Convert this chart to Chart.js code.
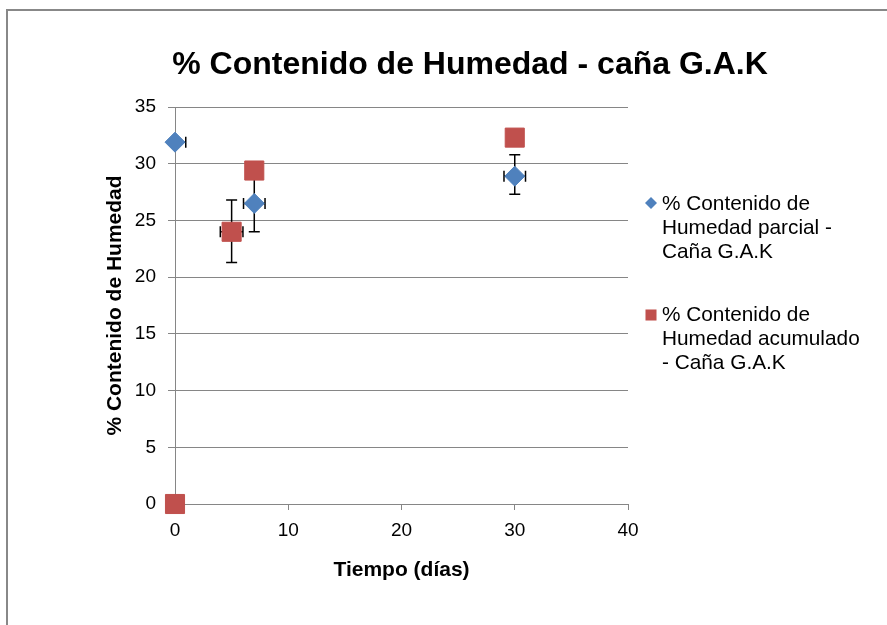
<!DOCTYPE html>
<html><head><meta charset="utf-8">
<script src="https://cdn.jsdelivr.net/npm/chart.js@4.4.1/dist/chart.umd.min.js"></script>
<style>
html,body{margin:0;padding:0;background:#fff;}
#wrap{position:relative;width:887px;height:625px;overflow:hidden;background:#fff;}
#frame{position:absolute;left:6px;top:9px;width:1000px;height:1000px;border:2px solid #888;box-sizing:border-box;pointer-events:none;}
canvas{position:absolute;left:0;top:0;}
</style></head><body>
<div id="wrap"><canvas id="c" width="887" height="625"></canvas><div id="frame"></div></div>
<script>
// ---- data ----
const chartTitle = '% Contenido de Humedad - caña G.A.K';
const xAxisTitle = 'Tiempo (días)';
const yAxisTitle = '% Contenido de Humedad';
const xTicks = [0, 10, 20, 30, 40];
const yTicks = [0, 5, 10, 15, 20, 25, 30, 35];
const parcialLabel = ['% Contenido de', 'Humedad parcial -', 'Caña G.A.K'];
const acumLabel = ['% Contenido de', 'Humedad acumulado', '- Caña G.A.K'];
const parcialX = [0, 7, 30];
const parcialY = [31.9, 26.5, 28.9];
const parcialXErr = [0.95, 0.95, 0.95];
const parcialYErrPlus = [0, 2.5, 1.9];
const parcialYErrMinus = [0, 2.5, 1.6];
const acumX = [0, 5, 7, 30];
const acumY = [0, 24.0, 29.4, 32.3];
const acumXErr = [0, 1.0, 0, 0];
const acumYErrPlus = [0, 2.8, 0, 0];
const acumYErrMinus = [0, 2.7, 0, 0];

// ---- styles ----
const FONT = '"Liberation Sans", Arial, sans-serif';
const BLUE = '#4F81BD';
const RED = '#C0504D';
const GRID = '#868686';

const errorBars = {
  id: 'errorBars',
  beforeDatasetsDraw(chart) {
    const {ctx, chartArea: a, scales: {x, y}} = chart;
    const sets = [
      [parcialX, parcialY, parcialXErr, parcialYErrPlus, parcialYErrMinus],
      [acumX, acumY, acumXErr, acumYErrPlus, acumYErrMinus]
    ];
    const cap = 5.5;
    ctx.save();
    ctx.beginPath();
    ctx.rect(a.left, a.top - 2, a.right - a.left + 2, a.bottom - a.top + 4);
    ctx.clip();
    ctx.strokeStyle = '#000';
    ctx.lineWidth = 1.5;
    sets.forEach(([xs, ys, xe, yp, ym]) => {
      xs.forEach((xv, i) => {
        const px = x.getPixelForValue(xv), py = y.getPixelForValue(ys[i]);
        ctx.beginPath();
        if (xe[i] > 0) {
          const x1 = x.getPixelForValue(xv - xe[i]), x2 = x.getPixelForValue(xv + xe[i]);
          ctx.moveTo(x1, py); ctx.lineTo(x2, py);
          ctx.moveTo(x1, py - cap); ctx.lineTo(x1, py + cap);
          ctx.moveTo(x2, py - cap); ctx.lineTo(x2, py + cap);
        }
        if (yp[i] > 0 || ym[i] > 0) {
          const y1 = y.getPixelForValue(ys[i] + yp[i]), y2 = y.getPixelForValue(ys[i] - ym[i]);
          ctx.moveTo(px, y1); ctx.lineTo(px, y2);
          ctx.moveTo(px - cap, y1); ctx.lineTo(px + cap, y1);
          ctx.moveTo(px - cap, y2); ctx.lineTo(px + cap, y2);
        }
        ctx.stroke();
      });
    });
    ctx.restore();
  }
};

const decor = {
  id: 'decor',
  afterDraw(chart) {
    const ctx = chart.ctx;
    ctx.save();
    ctx.fillStyle = '#000';
    ctx.font = 'bold 32px ' + FONT;
    ctx.textAlign = 'center';
    ctx.textBaseline = 'alphabetic';
    ctx.fillText(chartTitle, 470, 74);
    // legend
    const entries = [
      {lines: parcialLabel, color: BLUE, style: 'rectRot', radius: 6, my: 203, baselines: [210, 233.8, 257.6]},
      {lines: acumLabel, color: RED, style: 'rect', radius: 7.8, my: 315, baselines: [321, 345, 369]}
    ];
    ctx.font = '20.8px ' + FONT;
    ctx.textAlign = 'left';
    entries.forEach(e => {
      ctx.fillStyle = e.color;
      ctx.strokeStyle = e.color;
      Chart.helpers.drawPoint(ctx, {pointStyle: e.style, radius: e.radius, rotation: 0, borderWidth: 0}, 651, e.my);
      ctx.fillStyle = '#000';
      e.lines.forEach((t, i) => ctx.fillText(t, 662, e.baselines[i]));
    });
    ctx.restore();
  }
};

new Chart(document.getElementById('c'), {
  type: 'scatter',
  data: {
    datasets: [
      {
        label: parcialLabel.join(' '),
        data: parcialX.map((v, i) => ({x: v, y: parcialY[i]})),
        pointStyle: 'rectRot', pointRadius: 10, pointBorderWidth: 1,
        backgroundColor: BLUE, borderColor: BLUE, clip: false
      },
      {
        label: acumLabel.join(' '),
        data: acumX.map((v, i) => ({x: v, y: acumY[i]})),
        pointStyle: 'rect', pointRadius: 13.5, pointBorderWidth: 1,
        backgroundColor: RED, borderColor: RED, clip: false
      }
    ]
  },
  options: {
    responsive: false,
    animation: false,
    devicePixelRatio: 1,
    layout: {padding: {top: 107, left: 0, right: 259, bottom: 0}},
    plugins: {legend: {display: false}, tooltip: {enabled: false}, title: {display: false}},
    scales: {
      x: {
        type: 'linear', min: 0, max: 40,
        afterBuildTicks: s => { s.ticks = xTicks.map(v => ({value: v})); },
        afterFit: s => { s.height = 121; },
        grid: {drawOnChartArea: false, drawTicks: true, tickLength: 6, color: GRID, lineWidth: 1},
        border: {display: true, color: GRID, width: 1},
        ticks: {color: '#000', font: {family: FONT, size: 19}, padding: 9, maxRotation: 0, autoSkip: false},
        title: {display: true, text: xAxisTitle, color: '#000', font: {family: FONT, size: 21, weight: 'bold'}, padding: {top: 0, bottom: 42}}
      },
      y: {
        type: 'linear', min: 0, max: 35,
        afterBuildTicks: s => { s.ticks = yTicks.map(v => ({value: v})); },
        afterFit: s => { s.width = 175; },
        grid: {drawOnChartArea: true, drawTicks: true, tickLength: 7, color: GRID, lineWidth: 1},
        border: {display: true, color: GRID, width: 1},
        ticks: {color: '#000', font: {family: FONT, size: 19}, padding: 12, autoSkip: false},
        title: {display: true, text: yAxisTitle, color: '#000', font: {family: FONT, size: 21, weight: 'bold'}, padding: {top: 103, bottom: 0}}
      }
    }
  },
  plugins: [errorBars, decor]
});
</script>
</body></html>
